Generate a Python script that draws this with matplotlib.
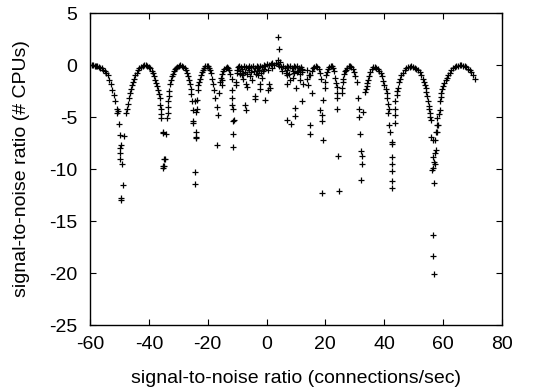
import matplotlib
matplotlib.use("Agg")
import matplotlib.pyplot as plt

plt.rcParams['font.family'] = ['Liberation Sans', 'DejaVu Sans']
plt.rcParams['axes.unicode_minus'] = False

# Smooth lobe points (x, y)
lobe_x = [
    -60, -59.5, -59, -58.5, -58, -57.5, -57, -56.5, -56, -55.5, -55, -54.5, -54, -53.5, -53, -52.5, -52, -51.5, -51, -50.8, -50.6,
    -47.7, -47.3, -47.1, -46.9, -46.5, -46.2, -45.8, -45.4, -45.0, -44.6, -44.2, -43.7, -43.2, -42.6, -42.0, -41.5, -41.0, -40.5,
    -40.0, -39.5, -39.0, -38.6, -38.2, -37.8, -37.5, -37.2, -36.9, -36.6, -36.3, -36.1, -36.0, -35.8, -35.8,
    -33.7, -33.6, -33.5, -33.4, -33.3, -33.1, -32.8, -32.5, -32.2, -31.9, -31.5, -31.1, -30.7, -30.3, -29.8, -29.4, -28.9,
    -28.3, -27.8, -27.4, -27.0, -26.6, -26.3, -26.0, -25.8, -25.6, -25.5,
    -22.8, -22.6, -22.3, -22.0, -21.6, -21.2, -20.8, -20.4, -20.0, -19.6, -19.2, -18.8, -18.4, -18.1, -17.8,
    -15.8, -15.5, -15.1, -14.7, -14.3, -13.9, -13.5, -13.1, -12.7, -12.3, -11.9,
    14.8, 15.3, 15.8, 16.3, 16.8, 17.3, 17.8, 18.2, 18.5,
    20.6, 21.0, 21.4, 21.8, 22.2, 22.6, 23.0, 23.4, 23.7,
    25.9, 26.4, 26.9, 27.4, 27.9, 28.3, 28.8, 29.3, 29.8, 30.2, 30.6,
    33.4, 33.7, 34.0, 34.3, 34.6, 34.9, 35.3, 35.8, 36.3, 36.8, 37.3, 37.8, 38.3, 38.8, 39.3, 39.7, 40.1, 40.5, 40.8, 41.1, 41.4, 41.5,
    43.6, 43.6, 43.6, 43.7, 44.2, 44.5, 44.8, 45.1, 45.5, 45.9, 46.4, 47.0, 47.5, 48.1, 48.7, 49.2, 49.8, 50.4, 51.0, 51.5, 52.1,
    52.6, 53.2, 53.5, 53.8, 54.1, 54.4, 54.7, 54.9, 55.1, 55.3, 55.5, 55.5, 56.1,
    58.0, 58.0, 58.0, 58.5, 58.9, 58.9, 59.2, 59.5, 59.8, 60.0, 60.5, 60.9, 61.3, 61.7, 62.3, 62.9, 63.5, 64.0, 64.6, 65.2, 65.8,
    66.3, 66.9, 67.5, 68.0, 68.6, 69.1, 69.7, 70.2, 70.8,
]
lobe_y = [
    0, 0, -0.02, -0.05, -0.08, -0.12, -0.18, -0.25, -0.33, -0.45, -0.6, -0.8, -1.0, -1.4, -1.8, -2.4, -2.9, -3.5, -4.2, -4.6, -4.4,
    -4.6, -4.2, -3.7, -3.2, -2.7, -2.3, -1.9, -1.6, -1.3, -1.0, -0.75, -0.5, -0.3, -0.15, -0.07, -0.03, -0.03, -0.08,
    -0.18, -0.3, -0.55, -0.8, -1.1, -1.4, -1.7, -2.0, -2.4, -2.8, -3.2, -3.8, -4.2, -4.7, -5.1,
    -5.1, -4.6, -4.0, -3.5, -3.0, -2.5, -1.8, -1.4, -1.1, -0.85, -0.6, -0.4, -0.25, -0.15, -0.05, 0.0, -0.05,
    -0.15, -0.3, -0.5, -0.8, -1.1, -1.4, -1.8, -2.3, -2.8, -3.5,
    -1.6, -1.3, -1.0, -0.7, -0.45, -0.25, -0.12, -0.1, -0.12, -0.25, -0.45, -0.8, -1.3, -1.8, -2.4,
    -1.6, -1.2, -0.85, -0.55, -0.35, -0.25, -0.2, -0.3, -0.5, -0.85, -1.3,
    -1.0, -0.6, -0.3, -0.15, -0.1, -0.15, -0.4, -0.8, -1.3,
    -0.7, -0.35, -0.15, -0.08, -0.1, -0.3, -0.6, -1.2, -1.7,
    -1.6, -0.9, -0.5, -0.25, -0.12, -0.1, -0.15, -0.35, -0.7, -1.1, -1.6,
    -2.6, -2.3, -2.0, -1.7, -1.4, -1.05, -0.7, -0.35, -0.15, -0.15, -0.25, -0.4, -0.55, -0.8, -1.1, -1.5, -1.9, -2.3, -2.7, -3.2, -3.7, -4.2,
    -5.6, -4.8, -4.2, -3.5, -2.9, -2.5, -2.2, -1.6, -1.3, -1.0, -0.75, -0.5, -0.3, -0.2, -0.15, -0.12, -0.18, -0.25, -0.4, -0.5, -0.65,
    -0.95, -1.3, -1.6, -1.9, -2.2, -2.6, -3.0, -3.5, -3.9, -4.2, -4.6, -5.0, -5.3,
    -6.4, -5.8, -5.1, -4.7, -4.3, -3.5, -3.1, -2.7, -2.3, -2.0, -1.7, -1.4, -1.2, -1.0, -0.75, -0.5, -0.3, -0.2, -0.1, -0.05, 0.0,
    0.0, -0.05, -0.12, -0.2, -0.35, -0.5, -0.7, -1.0, -1.3,
]

# Scattered points in and around the nulls
null_x = [
    -50.3, -49.9, -48.5, -49.8, -49.7, -49.7, -49.1, -48.9, -49.4, -49.4, -49.6,
    -35.1, -35.1, -34.5, -35.1, -35.1, -34.9, -34.9, -34.2,
    -24.9, -24.0, -24.9, -24.9, -24.0, -24.0, -24.0, -24.3, -24.3, -23.2, -23.2, -23.5, -23.5, -24.3,
    -17.5, -17.0, -16.4, -16.1, -17.0,
    -15.3, -15.3, -11.9, -11.9, -11.9, -11.3, -11.3, -11.3, -11.3, -11.1,
    13.6, 13.6, 14.2, 15.3, 14.4, 11.9,
    14.7, 14.7, 18.7, 18.7, 19.1, 19.3, 19.8, 19.8, 20.2, 18.7, 18.1,
    23.8, 23.8, 23.8, 24.0, 24.4, 24.7,
    25.5, 25.5, 26.1, 26.6,
    31.2, 31.5, 31.5, 32.9, 31.7, 32.1, 32.3, 32.3, 32.1,
    41.9, 42.5, 42.8, 42.5, 42.8, 42.8, 42.5, 42.5, 41.4, 41.6,
    56.6, 56.6, 56.6, 56.9, 56.6, 56.6, 56.9, 56.1, 57.2, 57.2, 56.9, 56.4, 57.8, 58.3, 57.6, 57.2,
]
null_y = [
    -5.7, -6.7, -6.8, -8.0, -8.5, -9.0, -9.5, -11.5, -12.8, -13.0, -7.7,
    -6.4, -6.5, -9.0, -9.7, -9.9, -9.0, -9.7, -6.6,
    -4.3, -4.5, -5.4, -5.6, -6.4, -6.9, -7.0, -10.3, -11.4, -1.9, -2.4, -3.4, -4.2, -3.5,
    -3.2, -4.0, -4.8, -2.7, -7.7,
    -1.4, -1.9, -2.4, -3.2, -3.8, -5.4, -6.6, -7.9, -4.2, -5.3,
    -0.5, -1.3, -1.9, -2.7, -1.0, -0.5,
    -5.8, -6.6, -4.8, -5.4, -7.2, -3.4, -2.2, -1.6, -1.0, -12.3, -4.3,
    -2.1, -2.7, -3.2, -4.2, -8.7, -12.1,
    -2.2, -2.7, -1.3, -0.6,
    -3.2, -4.2, -5.0, -4.5, -6.6, -8.3, -8.7, -9.5, -11.1,
    -6.4, -7.4, -7.6, -8.8, -9.5, -10.2, -11.2, -11.8, -4.6, -5.8,
    -7.2, -8.8, -9.9, -11.3, -16.3, -18.4, -20.1, -6.9, -7.2, -8.5, -9.3, -10.1, -6.4, -5.8, -8.2, -9.5,
]

# Central cluster
center_x = [
    -10.2, -9.7, -9.3, -8.8, -8.2, -7.6, -7.0, -6.4, -5.8, -5.2, -4.6, -4.0, -3.4, -2.8, -2.2, -1.6, -1.0, -0.4,
    0.2, 0.8, 1.4, 2.0, 2.6, 3.2, 3.8, 4.4, 5.0, 5.6, 6.2, 6.8, 7.4, 8.0, 8.6, 9.2, 9.8, 10.4, 11.0, 11.6, 12.2,
    -9.9, -9.0, -8.5, -7.3, -6.6, -6.0, -5.4, -4.3, -3.7, -3.1, -2.5, -1.9, -1.3, -0.7, 0.5, 1.7,
    5.3, 6.5, 7.1, 7.7, 8.9, 9.5, 10.7, 11.3, 11.9,
    -10.4, -10.4, -7.9, -7.9, -7.0, -6.8, -7.3, -7.0, -3.9, -3.9, -2.2, -2.2, -0.5, 0.6, 1.2, 0.9,
    -5.6, -5.0, -1.6, -2.9, -9.0,
    4.0, 4.3, 4.0, 4.6,
    6.8, 6.8, 7.9, 10.0, 11.3, 11.9, 9.6, 9.6, 7.0, 8.2, 12.5, 10.3, 9.0,
]
center_y = [
    -0.5, -0.2, -0.1, -0.2, -0.4, -0.1, -0.15, -0.3, -0.1, -0.2, -0.05, -0.3, -0.1, -0.15, -0.05, -0.2, 0.0, -0.1,
    0.1, 0.05, 0.1, 0.15, 0.05, 0.2, 0.1, -0.1, -0.2, -0.1, -0.3, -0.1, -0.2, -0.05, -0.3, -0.1, -0.2, -0.1, -0.3, -0.15, -0.4,
    -0.8, -0.6, -1.0, -0.7, -0.9, -0.5, -0.7, -0.6, -0.9, -0.6, -0.5, -0.8, -0.6, -0.4, -0.5, -0.3,
    -0.6, -0.8, -0.5, -0.9, -0.6, -0.8, -0.6, -0.9, -0.7,
    -1.6, -1.9, -0.8, -1.3, -1.8, -2.1, -3.8, -4.3, -3.0, -3.3, -1.8, -2.3, -3.4, -2.4, -2.2, -1.8,
    -1.1, -1.4, -1.25, -1.0, -0.9,
    2.7, 1.5, 0.5, 0.3,
    -1.8, -1.0, -1.4, -2.2, -1.4, -3.5, -4.1, -4.9, -5.3, -5.7, -1.8, -0.7, -1.25,
]

x_ticks = [-60, -40, -20, 0, 20, 40, 60, 80]
y_ticks = [5, 0, -5, -10, -15, -20, -25]

fig = plt.figure(figsize=(5.46, 3.89), dpi=100)
ax = fig.add_axes([0.165, 0.1645, 0.754, 0.802])

for xs, ys in [(lobe_x, lobe_y), (null_x, null_y), (center_x, center_y)]:
    ax.plot(xs, ys, linestyle='none', marker='+', color='black',
            markersize=5, markeredgewidth=0.9)

ax.set_xlim(-60, 80)
ax.set_ylim(-25, 5)
ax.set_xticks(x_ticks)
ax.set_yticks(y_ticks)
ax.tick_params(direction='in', length=4.5, width=0.8, top=True, right=True,
               labelsize=14)
ax.tick_params(axis='x', pad=8)
ax.tick_params(axis='y', pad=9)
for s in ax.spines.values():
    s.set_linewidth(1.0)
ax.set_xlabel('signal-to-noise ratio (connections/sec)', fontsize=14, labelpad=12)
ax.set_ylabel('signal-to-noise ratio (# CPUs)', fontsize=14, labelpad=14)

fig.savefig('out.png', dpi=100)
